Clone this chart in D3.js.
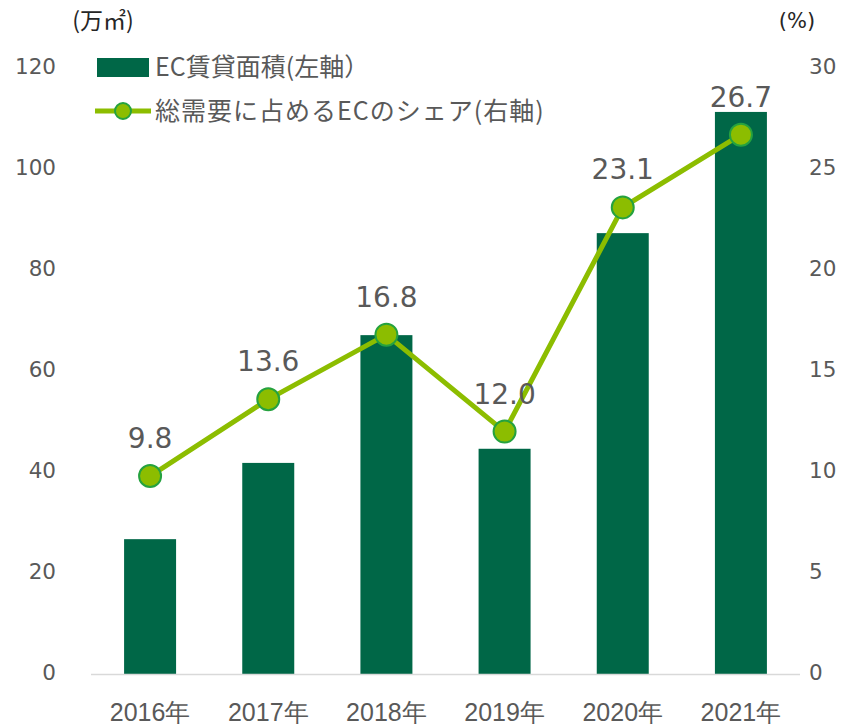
<!DOCTYPE html>
<html lang="ja">
<head>
<meta charset="UTF-8">
<script src="https://d3js.org/d3.v7.min.js"></script>
<style>
  body { margin: 0; background: #fff; font-family: "Noto Sans CJK JP", "Noto Sans", sans-serif; }
  text { fill: #595959; }
</style>
</head>
<body>
<div id="chart"></div>
<script>
const years = ["2016年", "2017年", "2018年", "2019年", "2020年", "2021年"];
const area = [26.7, 41.8, 67.1, 44.6, 87.3, 111.3];
const share = [9.8, 13.6, 16.8, 12.0, 23.1, 26.7];
const leftTicks = [0, 20, 40, 60, 80, 100, 120];
const rightTicks = [0, 5, 10, 15, 20, 25, 30];

const W = 856, H = 727;
const margin = {top: 68, right: 56, bottom: 53, left: 91};
const width = W - margin.left - margin.right,
      height = H - margin.top - margin.bottom;
const numFont = "'DejaVu Sans', Verdana, sans-serif";

const svg = d3.select("#chart").append("svg")
  .attr("width", W).attr("height", H);
const g = svg.append("g").attr("transform", `translate(${margin.left},${margin.top})`);

const x = d3.scaleBand().domain(years).range([0, width]).paddingInner(0.56).paddingOuter(0.28);
const yL = d3.scaleLinear().domain([0, 120]).range([height, 0]);
const yR = d3.scaleLinear().domain([0, 30]).range([height, 0]);

// left axis
const axL = g.append("g").call(d3.axisLeft(yL).tickValues(leftTicks).tickSize(0).tickPadding(35));
axL.select(".domain").remove();
axL.selectAll("text").attr("dy", "0.25em")
  .style("font-family", numFont).style("font-size", "21.5px").style("fill", "#595959");

// right axis
const axR = g.append("g").attr("transform", `translate(${width},0)`)
  .call(d3.axisRight(yR).tickValues(rightTicks).tickSize(0).tickPadding(9));
axR.select(".domain").remove();
axR.selectAll("text").attr("dy", "0.25em")
  .style("font-family", numFont).style("font-size", "21.5px").style("fill", "#595959");

// bars
g.selectAll(".bar").data(years).enter().append("rect")
  .attr("class", "bar")
  .attr("x", d => x(d))
  .attr("y", (d, i) => yL(area[i]))
  .attr("width", x.bandwidth())
  .attr("height", (d, i) => height - yL(area[i]))
  .attr("fill", "#006747");

// baseline
g.append("line").attr("x1", 0).attr("x2", width).attr("y1", height + 0.5).attr("y2", height + 0.5)
  .attr("stroke", "#d9d9d9").attr("stroke-width", 1.5);

// x axis
const axB = g.append("g").attr("transform", `translate(0,${height})`)
  .call(d3.axisBottom(x).tickSize(0).tickPadding(29));
axB.select(".domain").remove();
axB.selectAll("text").style("font-size", "25px").style("fill", "#595959");

// share line
const cx = d => x(d) + x.bandwidth() / 2;
const line = d3.line().x((d, i) => cx(years[i])).y(d => yR(d));
g.append("path").datum(share).attr("d", line)
  .attr("fill", "none").attr("stroke", "#8cbd00").attr("stroke-width", 5);

g.selectAll(".pt").data(share).enter().append("circle")
  .attr("cx", (d, i) => cx(years[i])).attr("cy", d => yR(d)).attr("r", 11)
  .attr("fill", "#8cbd00").attr("stroke", "#25a23f").attr("stroke-width", 2);

g.selectAll(".lbl").data(share).enter().append("text")
  .attr("x", (d, i) => cx(years[i])).attr("y", d => yR(d) - 28)
  .attr("text-anchor", "middle")
  .style("font-family", numFont)
  .style("font-size", "28px")
  .text(d => d.toFixed(1));

// unit labels
svg.append("text").attr("x", 103).attr("y", 29).attr("text-anchor", "middle")
  .style("font-size", "23px").style("fill", "#262626").text("(万㎡)");
svg.append("text").attr("x", 797).attr("y", 28).attr("text-anchor", "middle")
  .style("font-family", numFont)
  .style("font-size", "21px").style("fill", "#262626").text("(%)");

// legend
const lg = svg.append("g");
lg.append("rect").attr("x", 97).attr("y", 58).attr("width", 52).attr("height", 19).attr("fill", "#006747");
lg.append("text").attr("x", 155).attr("y", 76).style("font-size", "25px").text("EC賃貸面積(左軸）");
lg.append("line").attr("x1", 95).attr("x2", 151).attr("y1", 111).attr("y2", 111)
  .attr("stroke", "#8cbd00").attr("stroke-width", 5);
lg.append("circle").attr("cx", 123).attr("cy", 111).attr("r", 8)
  .attr("fill", "#8cbd00").attr("stroke", "#25a23f").attr("stroke-width", 2);
lg.append("text").attr("x", 155).attr("y", 120).style("font-size", "25px")
  .style("letter-spacing", "1px").text("総需要に占めるECのシェア(右軸)");
</script>
</body>
</html>
